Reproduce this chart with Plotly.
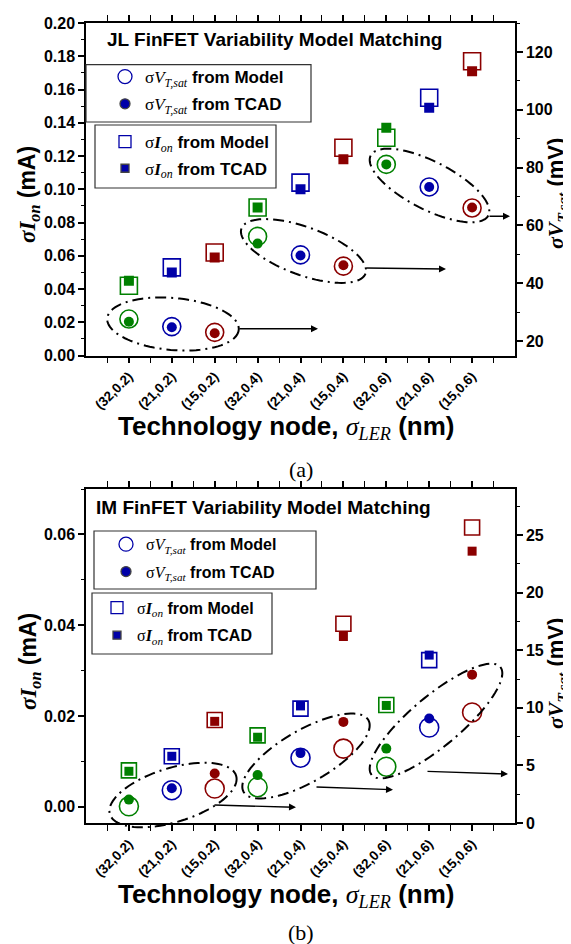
import numpy as np
import plotly.graph_objects as go

# ---------------- data ----------------
categories = ["(32,0.2)", "(21,0.2)", "(15,0.2)", "(32,0.4)", "(21,0.4)",
              "(15,0.4)", "(32,0.6)", "(21,0.6)", "(15,0.6)"]
x_pos = list(range(len(categories)))

# Panel (a): JL FinFET
a_ion_model = [0.042, 0.053, 0.062, 0.089, 0.104, 0.125, 0.131, 0.155, 0.177]
a_ion_tcad = [0.045, 0.050, 0.059, 0.089, 0.100, 0.118, 0.137, 0.149, 0.171]
a_vt_model = [27.6, 25.0, 23.0, 56.2, 49.8, 45.9, 81.1, 73.3, 66.0]
a_vt_tcad = [26.7, 24.8, 22.7, 53.7, 49.6, 46.2, 81.1, 73.3, 66.2]

# Panel (b): IM FinFET
b_ion_model = [0.0080, 0.0111, 0.0191, 0.0157, 0.0216, 0.0403, 0.0224, 0.0323, 0.0615]
b_ion_tcad = [0.0078, 0.0111, 0.0188, 0.0153, 0.0222, 0.0375, 0.0223, 0.0334, 0.0563]
b_vt_model = [1.45, 2.85, 2.99, 3.11, 5.67, 6.46, 4.89, 8.29, 9.6]
b_vt_tcad = [2.03, 3.02, 4.30, 4.16, 6.07, 8.78, 6.46, 9.07, 12.88]

a_left_ticks = [0.00, 0.02, 0.04, 0.06, 0.08, 0.10, 0.12, 0.14, 0.16, 0.18, 0.20]
a_right_ticks = [20, 40, 60, 80, 100, 120]
b_left_ticks = [0.00, 0.02, 0.04, 0.06]
b_right_ticks = [0, 5, 10, 15, 20, 25]

# ---------------- style ----------------
GREEN, BLUE, RED = "#008000", "#0000A8", "#8B0000"
POINT_COLORS = [GREEN, BLUE, RED] * 3
SANS = "Liberation Sans"
SERIF = "Liberation Serif"

W, H = 571, 944
ML, MR, MT, MB = 78, 64, 15, 129
PW = W - ML - MR
PH = H - MT - MB


def fx(px):
    return (px - ML) / PW


def fy(py):
    return (H - MB - py) / PH


fig = go.Figure()


def add_panel(xa, yl, yr, ion_m, ion_t, vt_m, vt_t, sq_o, sq_f, ci_o, ci_f):
    fig.add_trace(go.Scatter(x=x_pos, y=ion_m, xaxis=xa, yaxis=yl, mode="markers",
                             marker=dict(symbol="square-open", size=sq_o, color=POINT_COLORS,
                                         line=dict(width=1.6)), showlegend=False))
    fig.add_trace(go.Scatter(x=x_pos, y=ion_t, xaxis=xa, yaxis=yl, mode="markers",
                             marker=dict(symbol="square", size=sq_f, color=POINT_COLORS),
                             showlegend=False))
    fig.add_trace(go.Scatter(x=x_pos, y=vt_m, xaxis=xa, yaxis=yr, mode="markers",
                             marker=dict(symbol="circle-open", size=ci_o, color=POINT_COLORS,
                                         line=dict(width=1.6)), showlegend=False))
    fig.add_trace(go.Scatter(x=x_pos, y=vt_t, xaxis=xa, yaxis=yr, mode="markers",
                             marker=dict(symbol="circle", size=ci_f, color=POINT_COLORS),
                             showlegend=False))


add_panel("x", "y", "y2", a_ion_model, a_ion_tcad, a_vt_model, a_vt_tcad, 17, 10, 18, 10)
add_panel("x2", "y3", "y4", b_ion_model, b_ion_tcad, b_vt_model, b_vt_tcad, 15, 9, 19, 10)

VT_PART = f"<span style='font-family:{SERIF}'>σ<i>V<sub>T,sat</sub></i></span>"
ION_PART = f"<span style='font-family:{SERIF}'>σ<b><i>I</i></b><sub><i>on</i></sub></span>"
# (legend id, axes, label, symbol, size, left px, item centre px, font size)
legend_entries = [
    ("legend", "x", "y", VT_PART + "<b> from Model</b>", "circle-open", 14, 97, 70, 17),
    ("legend2", "x", "y", VT_PART + "<b> from TCAD</b>", "circle", 10, 97, 97.3, 17),
    ("legend3", "x", "y", ION_PART + "<b> from Model</b>", "square-open", 12, 97, 135, 17),
    ("legend4", "x", "y", ION_PART + "<b> from TCAD</b>", "square", 8, 97, 161.7, 17),
    ("legend5", "x2", "y3", VT_PART + "<b> from Model</b>", "circle-open", 14, 98, 538.3, 16),
    ("legend6", "x2", "y3", VT_PART + "<b> from TCAD</b>", "circle", 10, 98, 565.7, 16),
    ("legend7", "x2", "y3", ION_PART + "<b> from Model</b>", "square-open", 12, 89, 601.7, 16),
    ("legend8", "x2", "y3", ION_PART + "<b> from TCAD</b>", "square", 8, 89, 629.3, 16),
]
legend_layouts = {}
for lg, xa, ya, name, sym, sz, lx, cy, fs in legend_entries:
    fig.add_trace(go.Scatter(x=[None], y=[None], xaxis=xa, yaxis=ya, mode="markers", name=name,
                             legend=lg, showlegend=True,
                             marker=dict(symbol=sym, size=sz, color=BLUE, line=dict(width=1.3))))
    legend_layouts[lg] = dict(bgcolor="rgba(0,0,0,0)", borderwidth=0, xanchor="left",
                              yanchor="top", itemsizing="trace", x=fx(lx), y=fy(cy - 19),
                              font=dict(family=SANS, size=fs, color="black"))

tickfont = dict(family=SANS, size=16, color="black", weight="bold")
xtickfont = dict(family=SANS, size=13.5, color="black", weight="bold")
common_axis = dict(showline=True, linecolor="black", linewidth=1.5, ticks="outside",
                   ticklen=6, tickwidth=1.5, tickcolor="black", showgrid=False, zeroline=False,
                   automargin=False)


def xaxis_def(anchor):
    return dict(common_axis, domain=[0, 1], anchor=anchor, range=[-1, 9], tickmode="array",
                tickvals=x_pos, ticktext=categories, tickangle=-45, tickfont=xtickfont,
                mirror="allticks",
                minor=dict(ticks="outside", ticklen=3.5, tickwidth=1.2, tickcolor="black",
                           tickmode="linear", tick0=0.5, dtick=1))


def yaxis_def(domain, anchor, rng, tickvals, fmt, minor0, minord, side="left", overlay=None):
    d = dict(common_axis, anchor=anchor, range=rng, tickmode="array", tickvals=tickvals,
             tickformat=fmt, tickfont=tickfont, side=side,
             minor=dict(ticks="outside", ticklen=3.5, tickwidth=1.2, tickcolor="black",
                        tickmode="linear", tick0=minor0, dtick=minord))
    if overlay:
        d["overlaying"] = overlay
    else:
        d["domain"] = domain
    return d


A_DOM = [fy(347.5), 1.0]
B_DOM = [0.0, fy(481)]

fig.update_layout(
    width=W, height=H, margin=dict(l=ML, r=MR, t=MT, b=MB, autoexpand=False),
    paper_bgcolor="white", plot_bgcolor="white", showlegend=True,
    xaxis=xaxis_def("y"),
    yaxis=yaxis_def(A_DOM, "x", [0, 0.2], a_left_ticks, ".2f", 0.01, 0.02),
    yaxis2=yaxis_def(None, "x", [15, 130], a_right_ticks, "d", 10, 20, side="right", overlay="y"),
    xaxis2=xaxis_def("y3"),
    yaxis3=yaxis_def(B_DOM, "x2", [-0.0036, 0.070], b_left_ticks, ".2f", 0.01, 0.02),
    yaxis4=yaxis_def(None, "x2", [0, 29], b_right_ticks, "d", 2.5, 5, side="right", overlay="y3"),
    **legend_layouts,
)

# ---------------- decorations ----------------
shapes = []
for x0, y0, x1, y1 in [(78, 56.7, 303, 114), (87, 117, 268, 180),
                       (86, 523, 308, 581), (84, 585, 264, 646)]:
    shapes.append(dict(type="rect", xref="paper", yref="paper", x0=fx(x0), x1=fx(x1),
                       y0=fy(y1), y1=fy(y0), line=dict(color="#333333", width=1.2),
                       fillcolor="rgba(0,0,0,0)", layer="above"))

# ellipses: (cx, cy, semi-major, semi-minor, angle deg) in pixel space
ellipses = [(165, 316, 66, 26, 5), (295.5, 243, 66, 24, 20), (421.5, 177.5, 66, 24, 27),
            (165, 787, 66, 27, -17), (298, 748, 72, 26, -30), (428, 713, 84, 25, -40)]
for cx, cy, a, b, th in ellipses:
    t = np.linspace(0, 2 * np.pi, 97)
    c, s = np.cos(np.radians(th)), np.sin(np.radians(th))
    px = cx + a * np.cos(t) * c - b * np.sin(t) * s
    py = cy + a * np.cos(t) * s + b * np.sin(t) * c
    path = "M " + " L ".join(f"{fx(u):.5f},{fy(v):.5f}" for u, v in zip(px, py)) + " Z"
    shapes.append(dict(type="path", xref="paper", yref="paper", path=path,
                       line=dict(color="black", width=2, dash="11px,5px,2px,5px")))

annotations = []
# arrows (tail -> head) in pixel space
arrows = [((230, 320.7), (310, 320.7)), ((357, 260), (438, 261)), ((480, 208.3), (502, 208.3)),
          ((205, 797), (288, 799.3)), ((307, 779), (385, 781.7)), ((418, 763.3), (500, 766))]
for (tx, ty), (hx, hy) in arrows:
    annotations.append(dict(xref="paper", yref="paper", x=fx(hx), y=fy(hy), ax=tx - hx, ay=ty - hy,
                            axref="pixel", ayref="pixel", text="", showarrow=True, arrowhead=2,
                            arrowsize=1, arrowwidth=1.4, arrowcolor="black", standoff=0,
                            startstandoff=0))

TITLE_FONT = dict(family=SANS, size=19, color="black")
annotations += [
    dict(xref="paper", yref="paper", x=fx(97), y=fy(31.7), xanchor="left", yanchor="middle",
         text="<b>JL FinFET Variability Model Matching</b>", showarrow=False, font=TITLE_FONT),
    dict(xref="paper", yref="paper", x=fx(86), y=fy(499.3), xanchor="left", yanchor="middle",
         text="<b>IM FinFET Variability Model Matching</b>", showarrow=False, font=TITLE_FONT),
]

YL = f"<span style='font-family:{SERIF}'><b><i>σI<sub>on</sub></i></b></span><b> (mA)</b>"
YR = f"<span style='font-family:{SERIF}'><b><i>σV<sub>T,sat</sub></i></b></span><b> (mV)</b>"
XT = f"<b>Technology node, </b><span style='font-family:{SERIF}'><i>σ<sub>LER</sub></i></span><b> (nm)</b>"
AX_FONT = dict(family=SANS, size=23, color="black")
for ycen_l, ycen_r, ycen_x, ycap, cap in [(187, 186, 419, 461, "(a)"), (654, 666, 887, 924, "(b)")]:
    annotations.append(dict(xref="paper", yref="paper", x=fx(21), y=fy(ycen_l), text=YL,
                            textangle=-90, showarrow=False, font=AX_FONT,
                            xanchor="center", yanchor="middle"))
    annotations.append(dict(xref="paper", yref="paper", x=fx(549), y=fy(ycen_r), text=YR,
                            textangle=-90, showarrow=False,
                            font=dict(family=SANS, size=22, color="black"),
                            xanchor="center", yanchor="middle"))
    annotations.append(dict(xref="paper", yref="paper", x=fx(278), y=fy(ycen_x), text=XT,
                            showarrow=False, font=dict(family=SANS, size=26, color="black"),
                            xanchor="center", yanchor="middle"))
    annotations.append(dict(xref="paper", yref="paper", x=fx(293), y=fy(ycap), text=cap,
                            showarrow=False, font=dict(family=SERIF, size=22, color="black"),
                            xanchor="center", yanchor="middle"))

fig.update_layout(shapes=shapes, annotations=annotations)

fig.write_html("out.html")
